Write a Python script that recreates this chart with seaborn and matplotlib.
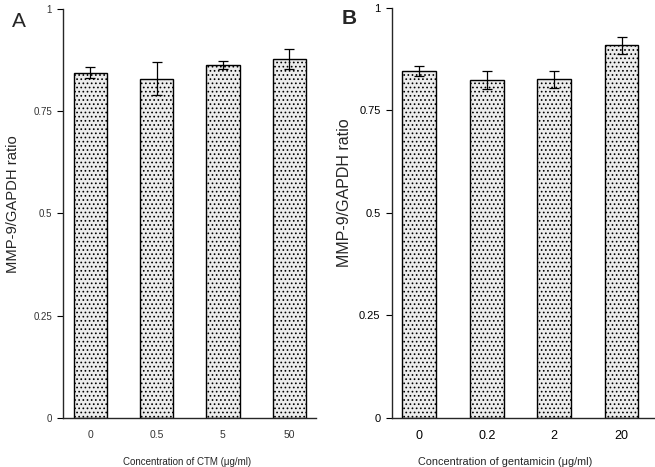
import matplotlib
matplotlib.use("Agg")
import matplotlib.pyplot as plt
import seaborn as sns
import pandas as pd

# Panel A data
conc_ctm = ["0", "0.5", "5", "50"]
ratio_ctm = [0.844, 0.829, 0.862, 0.878]
err_ctm = [0.013, 0.040, 0.010, 0.025]

# Panel B data
conc_gen = ["0", "0.2", "2", "20"]
ratio_gen = [0.846, 0.824, 0.826, 0.909]
err_gen = [0.013, 0.022, 0.021, 0.021]

y_ticks = [0, 0.25, 0.5, 0.75, 1]
y_tick_labels = ["0", "0.25", "0.5", "0.75", "1"]

sns.set_theme(style="ticks")
plt.rcParams["font.family"] = ["Liberation Sans", "DejaVu Sans"]
plt.rcParams["hatch.linewidth"] = 0.7
plt.rcParams["hatch.color"] = "#555555"

fig = plt.figure(figsize=(6.55, 4.67), dpi=100)
axA = fig.add_axes([0.0962, 0.105, 0.386, 0.876])
axB = fig.add_axes([0.598, 0.105, 0.4015, 0.878])


def draw(ax, cats, vals, errs, xlabel, ytick_fs, xtick_fs, lab_fs, xlab_fs,
         tick_color, xlim_right, ylab_pos, xlab_x, xtick_weight):
    df = pd.DataFrame({"conc": cats, "ratio": vals})
    sns.barplot(data=df, x="conc", y="ratio", ax=ax, width=0.5, color="#ececec",
                edgecolor="black", linewidth=1.0, errorbar=None, saturation=1)
    for p in ax.patches:
        p.set_hatch("....")
        p.set_facecolor("#ececec")
        p.set_edgecolor("black")
    ax.errorbar(range(len(cats)), vals, yerr=errs, fmt="none", ecolor="black",
                elinewidth=0.9, capsize=3.5, capthick=0.9)
    ax.set_ylim(0, 1)
    ax.set_xlim(-0.41, xlim_right)
    ax.set_yticks(y_ticks)
    ax.set_yticklabels(y_tick_labels)
    ax.tick_params(axis="y", length=4, width=0.8, labelsize=ytick_fs, colors="black",
                   labelcolor=tick_color, pad=4)
    ax.tick_params(axis="x", length=0, labelsize=xtick_fs, labelcolor=tick_color, pad=9)
    for lbl in ax.get_xticklabels():
        lbl.set_fontweight(xtick_weight)
    ax.set_xlabel(xlabel, fontsize=xlab_fs)
    ax.xaxis.set_label_coords(xlab_x, -0.095)
    ax.set_ylabel("MMP-9/GAPDH ratio", fontsize=lab_fs)
    ax.yaxis.set_label_coords(*ylab_pos)
    sns.despine(ax=ax)
    ax.spines["left"].set_linewidth(1.0)
    ax.spines["bottom"].set_linewidth(1.0)


draw(axA, conc_ctm, ratio_ctm, err_ctm, "Concentration of CTM (\u03bcg/ml)",
     7, 7.5, 10.6, 7, "#333333", 3.40, (-0.17, 0.523), 0.49, "normal")
draw(axB, conc_gen, ratio_gen, err_gen, "Concentration of gentamicin (\u03bcg/ml)",
     8, 9, 11.5, 7.8, "black", 3.49, (-0.152, 0.55), 0.433, "medium")

fig.text(0.018, 0.955, "A", fontsize=15, ha="left", va="center")
fig.text(0.522, 0.96, "B", fontsize=15, fontweight="bold", ha="left", va="center")

fig.savefig("out.png", dpi=100)
